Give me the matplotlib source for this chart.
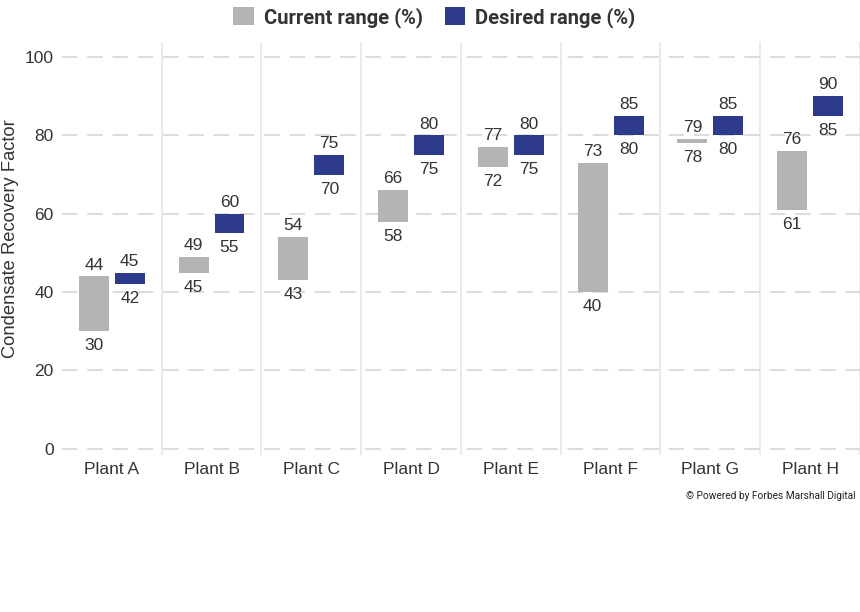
import matplotlib
matplotlib.use("Agg")
import matplotlib.pyplot as plt
import numpy as np
from matplotlib.patches import Patch

plt.rcParams['font.family'] = ['Liberation Sans', 'DejaVu Sans']

# datos
plantas = ['Plant A', 'Plant B', 'Plant C', 'Plant D', 'Plant E', 'Plant F', 'Plant G', 'Plant H']
actual_min = [30, 45, 43, 58, 72, 40, 78, 61]
actual_max = [44, 49, 54, 66, 77, 73, 79, 76]
deseado_min = [42, 55, 70, 75, 75, 80, 80, 85]
deseado_max = [45, 60, 75, 80, 80, 85, 85, 90]

gris = '#b3b3b3'
azul = '#2e3a8c'
texto = '#333333'

fig = plt.figure(figsize=(8.6, 6.12), dpi=100)
ax = fig.add_axes([0.072, 0.2565, 0.928, 0.6745])

x = np.arange(len(plantas))
ancho = 0.3
off = 0.18

ax.bar(x - off, np.array(actual_max) - np.array(actual_min), bottom=actual_min,
       width=ancho, color=gris, zorder=3)
ax.bar(x + off, np.array(deseado_max) - np.array(deseado_min), bottom=deseado_min,
       width=ancho, color=azul, zorder=3)

# etiquetas arriba y abajo
for i in range(len(plantas)):
    ax.text(x[i] - off, actual_max[i] + 1.0, str(actual_max[i]), ha='center', va='bottom',
            fontsize=12.5, color=texto, zorder=4)
    ax.text(x[i] - off, actual_min[i] - 1.8, str(actual_min[i]), ha='center', va='top',
            fontsize=12.5, color=texto, zorder=4)
    ax.text(x[i] + off, deseado_max[i] + 1.0, str(deseado_max[i]), ha='center', va='bottom',
            fontsize=12.5, color=texto, zorder=4)
    ax.text(x[i] + off, deseado_min[i] - 1.8, str(deseado_min[i]), ha='center', va='top',
            fontsize=12.5, color=texto, zorder=4)

ax.set_xlim(-0.5, 7.5)
ax.set_ylim(-1.6, 103.8)
ax.set_xticks(x)
ax.set_xticklabels(plantas, fontsize=12.5, color=texto)
ax.set_yticks([0, 20, 40, 60, 80, 100])
ax.tick_params(axis='y', labelsize=12.5, colors=texto, length=0, pad=6)
ax.tick_params(axis='x', length=0, pad=5)
ax.set_ylabel('Condensate Recovery Factor', fontsize=13.2, color=texto)
ax.yaxis.set_label_coords(-0.054, 0.525)

# rejilla
ax.set_xticks(np.arange(0.5, 7.6, 1), minor=True)
ax.tick_params(axis='x', which='minor', length=0)
ax.grid(axis='x', which='minor', color='#e6e6e6', linewidth=1.2, linestyle='-', zorder=0)
ax.grid(axis='y', which='major', color='#dcdcdc', linewidth=1.4, linestyle=(0, (8, 5)), zorder=0)
for s in ax.spines.values():
    s.set_visible(False)

# leyenda
h = [Patch(facecolor=gris, label='Current range (%)'),
     Patch(facecolor=azul, label='Desired range (%)')]
fig.legend(handles=h, loc='upper center', bbox_to_anchor=(0.505, 1.018), ncol=2,
           frameon=False, prop={'family': 'Roboto', 'weight': 'bold', 'size': 14.5},
           handlelength=1.0, handleheight=1.0, handletextpad=0.5, columnspacing=1.1,
           labelcolor=texto)

fig.text(0.995, 0.19, '\u00a9 Powered by Forbes Marshall Digital', ha='right', va='center',
         fontsize=7.3, color='#222222', family=['Roboto', 'DejaVu Sans'])

fig.savefig('out.png', dpi=100)
